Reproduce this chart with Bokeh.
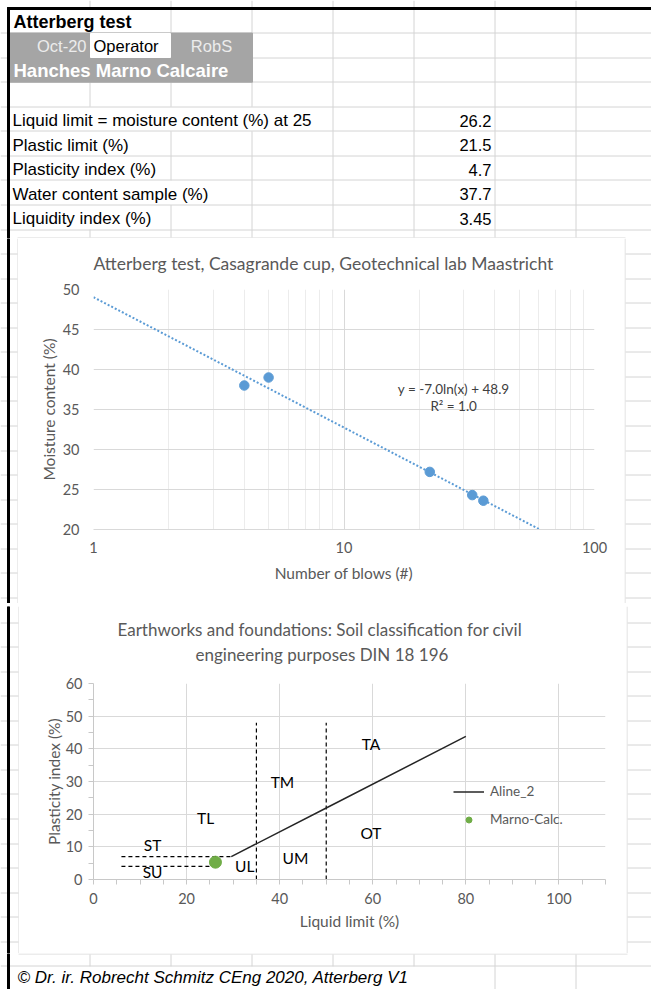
import math
import numpy as np
from bokeh.plotting import figure
from bokeh.models import (Range1d, FixedTicker, Legend, LegendItem, Title, LabelSet,
                          ColumnDataSource, PrintfTickFormatter)
from bokeh.layouts import row, column
from bokeh.embed import file_html
from bokeh.resources import INLINE
from bokeh.core.properties import value

# ---------------- data ----------------
sheet_title = "Atterberg test"
sheet_date = "Oct-20"
sheet_operator_label = "Operator"
sheet_operator = "RobS"
sheet_sample = "Hanches Marno Calcaire"
result_labels = ["Liquid limit = moisture content (%) at 25", "Plastic limit (%)",
                 "Plasticity index (%)", "Water content sample (%)", "Liquidity index (%)"]
result_values = ["26.2", "21.5", "4.7", "37.7", "3.45"]
footer_text = "\u00a9  Dr. ir. Robrecht Schmitz CEng 2020, Atterberg V1"

chart1_title = "Atterberg test, Casagrande cup, Geotechnical lab Maastricht"
blows = [4, 5, 22, 32.5, 36]
moisture = [38.0, 39.0, 27.2, 24.3, 23.6]
trend_label = "y = -7.0ln(x) + 48.9"
r2_label = "R\u00b2 = 1.0"
trend_label_pos = [27.4, 37.6]
r2_label_pos = [27.4, 35.5]
c1_xticks = [1, 10, 100]
c1_xminor = [2, 3, 4, 5, 6, 7, 8, 9, 20, 30, 40, 50, 60, 70, 80, 90]
c1_yticks = [20, 25, 30, 35, 40, 45, 50]

chart2_title_1 = "Earthworks and foundations: Soil classification for civil"
chart2_title_2 = "engineering purposes DIN 18 196"
aline_ll = [29.6, 50, 80]
aline_pi = [7.0, 21.9, 43.8]
vbound_ll = [35, 50]
vbound_pi_bottom = [0, 0]
vbound_pi_top = [48, 48]
hbound_pi = [7, 4]
hbound_ll_start = [6, 6]
hbound_ll_end = [29.5, 25.5]
sample_ll = [26.2]
sample_pi = [5.3]
zone_names = ["TA", "TM", "TL", "OT", "UM", "ST", "SU", "UL"]
zone_ll = [59.6, 40.6, 24.1, 59.6, 43.4, 12.7, 12.7, 32.5]
zone_pi = [41.6, 30.0, 18.7, 14.1, 6.7, 10.7, 2.4, 4.0]
c2_xticks = [0, 20, 40, 60, 80, 100]
c2_xminor = [5, 10, 15, 25, 30, 35, 45, 50, 55, 65, 70, 75, 85, 90, 95, 105, 110]
c2_yticks = [0, 10, 20, 30, 40, 50, 60]
c2_yminor = [5, 15, 25, 35, 45, 55]

# ---------------- styles / geometry ----------------
GRID = "#d4d4d4"
SHEET_FONT = "Liberation Sans"
CHART_FONT = "Lato"
TXT = "#595959"
BLUE = "#5b9bd5"
GREEN = "#70ad47"
CGRID = "#d9d9d9"
BOX = "#d9d9d9"
W = 651

ROW_H = 24.56
COL_W = 81.1
ROW_LINES = [8 + ROW_H * k for k in range(0, 41)]
COL_LINES = [8 + COL_W * k for k in range(1, 8)]


def px(v):
    return math.floor(v) + 0.5


def sheet(x0, x1, y0, y1):
    p = figure(width=int(x1 - x0), height=int(y1 - y0),
               x_range=Range1d(x0, x1), y_range=Range1d(y1, y0),
               x_axis_type=None, y_axis_type=None, title=None,
               output_backend="svg", toolbar_location=None, min_border=0,
               outline_line_color=None, background_fill_color="white",
               border_fill_color="white", frame_align=False)
    return p


def hlines(p, x0, x1, y0, y1):
    ys = [px(r) for r in ROW_LINES if y0 < r < y1]
    if ys:
        p.segment(x0=[x0] * len(ys), y0=ys, x1=[x1] * len(ys), y1=ys,
                  line_color=GRID, line_width=1)


def left_border(p, y0, y1):
    p.quad(left=[7], right=[9], top=[y0], bottom=[y1], color="black")


def box_line(p, x0, y0, x1, y1):
    p.segment(x0=[x0], y0=[y0], x1=[x1], y1=[y1], line_color=BOX, line_width=1)


def sheet_text(p, x, y, t, align="left", bold=False, size="17px", color="black",
               italic=False):
    style = "bold" if bold else ("italic" if italic else "normal")
    p.text(x=[x], y=[y], text=[t], text_align=align, text_baseline="middle",
           text_font=value(SHEET_FONT), text_font_size=size,
           text_font_style=style, text_color=color)


def style_title(t, offset, standoff, valign):
    t.align = "left"
    t.offset = offset
    t.standoff = standoff
    t.vertical_align = valign
    t.text_font = CHART_FONT
    t.text_font_size = "17.5px"
    t.text_font_style = "normal"
    t.text_color = TXT


# ---------------- top sheet area ----------------
T = sheet(0, W, 0, 238)
hlines(T, 0, W, 9, 238)
hidden = {0: {0}, 1: {0, 1, 2}, 2: {0, 1, 2}, 4: {0, 1, 2}, 5: {0}, 6: {0},
          7: {0, 1}, 8: {0}}
vx, vy0, vy1 = [], [], []
for j, c in enumerate(COL_LINES):
    vx.append(px(c)); vy0.append(0); vy1.append(7)
for k in range(10):
    ya = 9 if k == 0 else 8 + ROW_H * k
    yb = min(8 + ROW_H * (k + 1), 237)
    for j, c in enumerate(COL_LINES):
        if j not in hidden.get(k, set()):
            vx.append(px(c)); vy0.append(ya); vy1.append(yb)
T.segment(x0=vx, y0=vy0, x1=vx, y1=vy1, line_color=GRID, line_width=1)
T.quad(left=[9], right=[252], top=[8 + ROW_H], bottom=[8 + 3 * ROW_H], color="#a5a5a5")
T.quad(left=[90], right=[170], top=[33], bottom=[57], color="white")
T.quad(left=[7], right=[W], top=[7], bottom=[9], color="black")
left_border(T, 7, 238)
box_line(T, 17, 237.5, 625, 237.5)

sheet_text(T, 13, 21, sheet_title, bold=True, size="18px")
sheet_text(T, 86, 45.5, sheet_date, align="right", color="#ececec", size="16.5px")
sheet_text(T, 93, 45.5, sheet_operator_label, size="16.5px")
sheet_text(T, 211, 45.5, sheet_operator, align="center", color="#ececec", size="16.5px")
sheet_text(T, 13, 70, sheet_sample, bold=True, size="18.5px", color="white")
for i, (lab, val) in enumerate(zip(result_labels, result_values)):
    yc = 8 + ROW_H * (4 + i + 0.5) + 1.5
    sheet_text(T, 12, yc, lab)
    sheet_text(T, 491, yc, val, align="right", size="16.5px")

# ---------------- side strips ----------------
L1 = sheet(0, 18, 238, 603)
hlines(L1, 0, 17, 238, 603)
left_border(L1, 238, 603)
box_line(L1, 17.5, 238, 17.5, 603)
R1 = sheet(624, W, 238, 603)
hlines(R1, 625, W, 238, 603)
box_line(R1, 624.5, 238, 624.5, 603)

G = sheet(0, W, 603, 606)
left_border(G, 603, 606)
box_line(G, 17, 603.5, 625, 603.5)
box_line(G, 18, 605.5, 627, 605.5)

L2 = sheet(0, 19, 606, 953)
hlines(L2, 0, 18, 606, 953)
left_border(L2, 606, 953)
box_line(L2, 18.5, 606, 18.5, 953)
R2 = sheet(626, W, 606, 953)
hlines(R2, 627, W, 606, 953)
box_line(R2, 626.5, 606, 626.5, 953)

# ---------------- bottom sheet ----------------
B = sheet(0, W, 953, 989)
hlines(B, 0, W, 953, 989)
left_border(B, 953, 989)
box_line(B, 18, 953.5, 627, 953.5)
bx, by0, by1 = [], [], []
for j, c in enumerate(COL_LINES):
    bx.append(px(c)); by0.append(954); by1.append(8 + ROW_H * 39)
    if j >= 5:
        bx.append(px(c)); by0.append(8 + ROW_H * 39); by1.append(989)
B.segment(x0=bx, y0=by0, x1=bx, y1=by1, line_color=GRID, line_width=1)
sheet_text(B, 17, 977, footer_text, italic=True, size="17px")


def style_axis(ax):
    ax.major_label_text_font = CHART_FONT
    ax.major_label_text_font_size = "14.5px"
    ax.major_label_text_color = TXT
    ax.axis_label_text_font = CHART_FONT
    ax.axis_label_text_font_size = "15.5px"
    ax.axis_label_text_font_style = "normal"
    ax.axis_label_text_color = TXT


# ---------------- chart 1 ----------------
C1 = figure(width=606, height=365, x_axis_type="log", x_range=Range1d(1, 100),
            y_range=Range1d(20, 50), output_backend="svg", toolbar_location=None,
            min_border_left=75, min_border_right=30, min_border_top=51,
            min_border_bottom=74, background_fill_color="white",
            border_fill_color="white", outline_line_color=None, frame_align=False)
C1.title.text = chart1_title
style_title(C1.title, 0, 28, "top")
xt1 = FixedTicker(ticks=c1_xticks, minor_ticks=c1_xminor)
C1.xaxis.ticker = xt1
C1.xgrid.ticker = xt1
C1.xaxis.formatter = PrintfTickFormatter(format="%d")
C1.xgrid.grid_line_color = CGRID
C1.xgrid.minor_grid_line_color = "#ececec"
yt1 = FixedTicker(ticks=c1_yticks)
C1.yaxis.ticker = yt1
C1.ygrid.ticker = yt1
C1.ygrid.grid_line_color = CGRID
for ax in (C1.xaxis, C1.yaxis):
    style_axis(ax)
    ax.major_tick_line_color = None
    ax.minor_tick_line_color = None
    ax.major_tick_out = 0
    ax.minor_tick_out = 0
    ax.major_tick_in = 0
    ax.minor_tick_in = 0
C1.xaxis.axis_line_color = CGRID
C1.yaxis.axis_line_color = None
C1.xaxis.axis_label = "Number of blows (#)"
C1.yaxis.axis_label = "Moisture content (%)"
C1.xaxis.major_label_standoff = 12
C1.xaxis.axis_label_standoff = 8
C1.yaxis.major_label_standoff = 14
C1.yaxis.axis_label_standoff = 2

slope, intercept = np.polyfit(np.log(blows), moisture, 1)
C1.line([1, 100], [intercept, intercept + slope * np.log(100)], line_color=BLUE,
        line_width=2, line_dash="2 2")
C1.scatter(blows, moisture, size=9.5, color=BLUE)
C1.text(x=[trend_label_pos[0], r2_label_pos[0]], y=[trend_label_pos[1], r2_label_pos[1]],
        text=[trend_label, r2_label], text_align="center", text_baseline="middle",
        text_font=value(CHART_FONT), text_font_size="13.5px", text_color="#404040")

# ---------------- chart 2 ----------------
C2 = figure(width=607, height=347, x_range=Range1d(0, 110), y_range=Range1d(0, 60),
            output_backend="svg", toolbar_location=None,
            min_border_left=74, min_border_right=21, min_border_top=77,
            min_border_bottom=74, background_fill_color="white",
            border_fill_color="white", outline_line_color=None, frame_align=False)
C2.title.text = chart2_title_1
style_title(C2.title, 24, -26, "bottom")
C2.title.text_font_size = "17px"
t2 = Title(text=chart2_title_2)
style_title(t2, 102, 34, "top")
t2.text_font_size = "17px"
C2.add_layout(t2, "above")

xt2 = FixedTicker(ticks=c2_xticks, minor_ticks=c2_xminor)
yt2 = FixedTicker(ticks=c2_yticks, minor_ticks=c2_yminor)
C2.xaxis.ticker = xt2
C2.yaxis.ticker = yt2
C2.xgrid.ticker = FixedTicker(ticks=c2_xticks)
C2.ygrid.ticker = FixedTicker(ticks=c2_yticks)
C2.xgrid.grid_line_color = CGRID
C2.ygrid.grid_line_color = CGRID
for ax in (C2.xaxis, C2.yaxis):
    style_axis(ax)
    ax.axis_line_color = "#c8c8c8"
    ax.major_tick_line_color = "#c8c8c8"
    ax.minor_tick_line_color = "#c8c8c8"
    ax.major_tick_out = 5
    ax.major_tick_in = 0
    ax.minor_tick_out = 5
    ax.minor_tick_in = 0
C2.xaxis.major_label_standoff = 8
C2.yaxis.major_label_standoff = 6
C2.xaxis.axis_label = "Liquid limit (%)"
C2.yaxis.axis_label = "Plasticity index (%)"
C2.xaxis.axis_label_standoff = 5
C2.yaxis.axis_label_standoff = 0

C2.segment(x0=vbound_ll, y0=vbound_pi_bottom, x1=vbound_ll, y1=vbound_pi_top,
           line_color="black", line_width=1.2, line_dash="4 3")
C2.segment(x0=hbound_ll_start, y0=hbound_pi, x1=hbound_ll_end, y1=hbound_pi,
           line_color="black", line_width=1.2, line_dash="4 3")
al = C2.line(aline_ll, aline_pi, line_color="#262626", line_width=1.5)
pt = C2.scatter(sample_ll, sample_pi, size=12, color=GREEN)
zone_src = ColumnDataSource(dict(x=zone_ll, y=zone_pi, text=zone_names))
C2.add_layout(LabelSet(x="x", y="y", text="text", source=zone_src,
                       text_align="center", text_baseline="middle",
                       text_font=value(CHART_FONT), text_font_size="15.5px",
                       text_color="black"))
legend = Legend(items=[LegendItem(label="Aline_2", renderers=[al]),
                       LegendItem(label="Marno-Calc.", renderers=[pt])],
                location=(360, 52), orientation="vertical", glyph_width=31,
                glyph_height=15, label_height=15, spacing=12, padding=0, margin=0,
                label_standoff=6, border_line_color=None, background_fill_alpha=0,
                label_text_font=CHART_FONT, label_text_font_size="13.5px",
                label_text_color=TXT)
C2.add_layout(legend)

layout = column(T, row(L1, C1, R1), G, row(L2, C2, R2), B)
open("out.html", "w").write(file_html(layout, INLINE, "Atterberg test"))
